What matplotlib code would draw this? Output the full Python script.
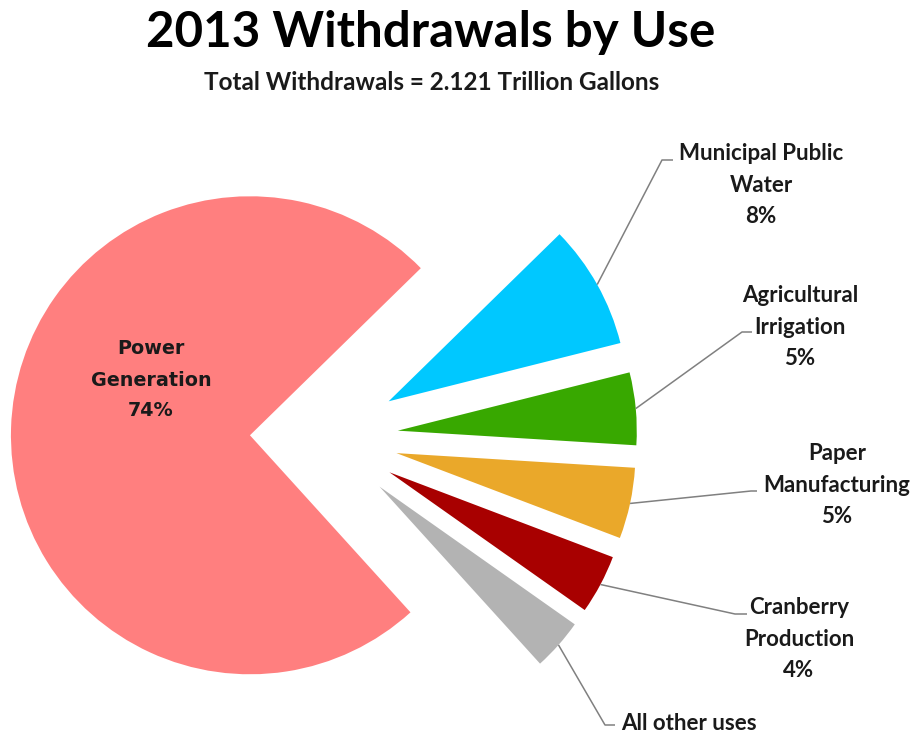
import matplotlib
matplotlib.use('Agg')
import matplotlib.pyplot as plt
import numpy as np

# ---- data ----
categories = ['Power\nGeneration', 'Municipal Public\nWater', 'Agricultural\nIrrigation',
              'Paper\nManufacturing', 'Cranberry\nProduction', 'All other uses']
shares = [74.4, 8.4, 4.9, 4.8, 4.0, 3.5]
pct_labels = ['74%', '8%', '5%', '5%', '4%', '']
colors = ['#FF7F7F', '#00C8FF', '#38A800', '#EAA82A', '#A80000', '#B3B3B3']

title = '2013 Withdrawals by Use'
subtitle = 'Total Withdrawals = 2.121 Trillion Gallons'

# ---- layout ----
W, H, DPI = 916, 732, 100
R_PX = 239.0
CX, CY = 324.0, 437.5


def px(x, y):
    return ((x - CX) / R_PX, (CY - y) / R_PX)


fig = plt.figure(figsize=(W / DPI, H / DPI), dpi=DPI)
fig.patch.set_facecolor('white')
ax = fig.add_axes([0, 0, 1, 1])

wedges, _ = ax.pie(shares, explode=[0.31] * len(shares), colors=colors,
                   startangle=-47.8, counterclock=False, radius=1.0,
                   wedgeprops=dict(linewidth=0))
ax.set_aspect('auto')
ax.set_xlim(-CX / R_PX, (W - CX) / R_PX)
ax.set_ylim((CY - H) / R_PX, CY / R_PX)
ax.axis('off')

# label layout (pixel positions): text center, elbow, end of leader
label_pos = {1: (761, 185), 2: (800, 327), 3: (837, 485), 4: (799, 639), 5: (689, 723)}
elbows = {1: ((662, 160), (673, 160)), 2: ((742, 332), (752, 332)),
          3: ((751, 491), (757, 491)), 4: ((735, 614), (747, 614)),
          5: ((605, 725), (615, 725))}

lab_font = dict(family='Lato', weight='bold', size=16, color='#1a1a1a')

for i, w in enumerate(wedges):
    if i == 0:
        continue
    mid = np.deg2rad((w.theta1 + w.theta2) / 2)
    sx = w.center[0] + w.r * np.cos(mid)
    sy = w.center[1] + w.r * np.sin(mid)
    (ex, ey), (fx, fy) = elbows[i]
    e = px(ex, ey)
    f = px(fx, fy)
    ax.plot([sx, e[0], f[0]], [sy, e[1], f[1]], color='#808080', lw=1.1,
            solid_capstyle='butt', zorder=1)
    txt = categories[i] + ('\n' + pct_labels[i] if pct_labels[i] else '')
    tx, ty = px(*label_pos[i])
    ax.text(tx, ty, txt, ha='center', va='center', multialignment='center',
            linespacing=1.6, **lab_font)

# Power generation label (inside)
tx, ty = px(151, 380)
ax.text(tx, ty, categories[0] + '\n' + pct_labels[0], ha='center', va='center',
        multialignment='center', family='DejaVu Sans', weight='bold', size=13.8,
        color='#1a1a1a', linespacing=1.8)

# titles
tx, ty = px(431, 47)
ax.text(tx, ty, title, ha='center', va='baseline', family='Lato', weight='bold',
        size=35.5, color='black')
tx, ty = px(432, 90)
ax.text(tx, ty, subtitle, ha='center', va='baseline', family='Lato', weight='bold',
        size=17.5, color='#1a1a1a')

fig.savefig('out.png', dpi=DPI, facecolor='white')
